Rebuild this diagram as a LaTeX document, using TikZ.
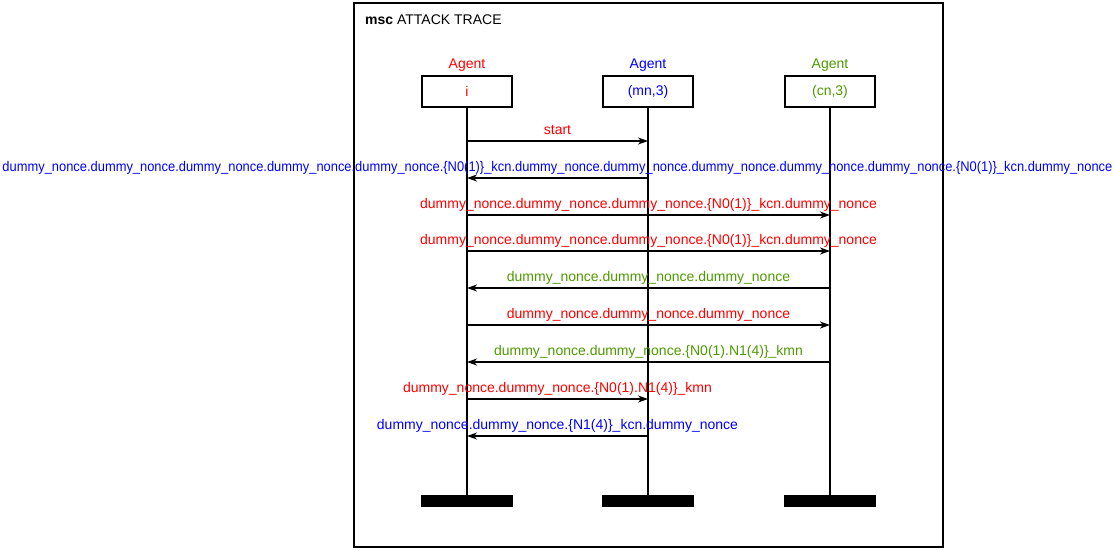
\documentclass[tikz,border=0pt]{standalone}
\usepackage{fontspec}
\setmainfont{Liberation Sans}
\usetikzlibrary{arrows.meta, positioning}

\definecolor{agentred}{RGB}{255,0,0}
\definecolor{agentblue}{RGB}{0,0,255}
\definecolor{agentgreen}{RGB}{77,154,0}

\begin{document}
\begin{tikzpicture}[
    x=1pt, y=-1pt,
    every node/.style={font=\fontsize{14}{16}\selectfont},
    head/.style={rectangle, draw, line width=1.3pt, minimum width=90pt, minimum height=31pt, inner sep=0pt},
    endbar/.style={rectangle, fill=black, minimum width=92pt, minimum height=12pt, inner sep=0pt},
    life/.style={line width=1.3pt},
    msg/.style={-{Stealth[length=10pt, width=7pt, inset=3pt]}, line width=1.3pt},
    lbl/.style={midway, anchor=base, yshift=7pt, inner sep=0pt}
]
\useasboundingbox (0,0) rectangle (1115,550);

% frame
\draw[line width=1.5pt] (354,3) rectangle (943,547);
\node[anchor=base west, inner sep=0pt] (title) at (365,24) {\textbf{msc} ATTACK TRACE};

% instances
\node[head, text=agentred] (hi) at (467,91.5) {i};
\node[head, text=agentblue] (hmn) at (648,91.5) {(mn,3)};
\node[head, text=agentgreen] (hcn) at (830,91.5) {(cn,3)};
\node[above=4pt of hi, text=agentred, inner sep=0pt] (ai) {Agent};
\node[above=4pt of hmn, text=agentblue, inner sep=0pt] (amn) {Agent};
\node[above=4pt of hcn, text=agentgreen, inner sep=0pt] (acn) {Agent};

\node[endbar] (ei) at (467,501) {};
\node[endbar] (emn) at (648,501) {};
\node[endbar] (ecn) at (830,501) {};

\draw[life] (hi) -- (ei);
\draw[life] (hmn) -- (emn);
\draw[life] (hcn) -- (ecn);

% message points
\foreach \k/\y in {1/141,2/178,3/215,4/251,5/288,6/325,7/362,8/399,9/436} {
  \coordinate (i\k) at (467,\y);
  \coordinate (mn\k) at (648,\y);
  \coordinate (cn\k) at (830,\y);
}

% messages
\draw[msg] (i1) -- node[lbl, text=agentred] {start} (mn1);
\draw[msg] (mn2) -- node[lbl, text=agentblue] {\resizebox{1110pt}{\height}{dummy\_nonce.dummy\_nonce.dummy\_nonce.dummy\_nonce.dummy\_nonce.\{N0(1)\}\_kcn.dummy\_nonce.dummy\_nonce.dummy\_nonce.dummy\_nonce.dummy\_nonce.\{N0(1)\}\_kcn.dummy\_nonce}} (i2);
\draw[msg] (i3) -- node[lbl, text=agentred] {dummy\_nonce.dummy\_nonce.dummy\_nonce.\{N0(1)\}\_kcn.dummy\_nonce} (cn3);
\draw[msg] (i4) -- node[lbl, text=agentred] {dummy\_nonce.dummy\_nonce.dummy\_nonce.\{N0(1)\}\_kcn.dummy\_nonce} (cn4);
\draw[msg] (cn5) -- node[lbl, text=agentgreen] {dummy\_nonce.dummy\_nonce.dummy\_nonce} (i5);
\draw[msg] (i6) -- node[lbl, text=agentred] {dummy\_nonce.dummy\_nonce.dummy\_nonce} (cn6);
\draw[msg] (cn7) -- node[lbl, text=agentgreen] {dummy\_nonce.dummy\_nonce.\{N0(1).N1(4)\}\_kmn} (i7);
\draw[msg] (i8) -- node[lbl, text=agentred] {dummy\_nonce.dummy\_nonce.\{N0(1).N1(4)\}\_kmn} (mn8);
\draw[msg] (mn9) -- node[lbl, text=agentblue] {dummy\_nonce.dummy\_nonce.\{N1(4)\}\_kcn.dummy\_nonce} (i9);

\end{tikzpicture}
\end{document}
